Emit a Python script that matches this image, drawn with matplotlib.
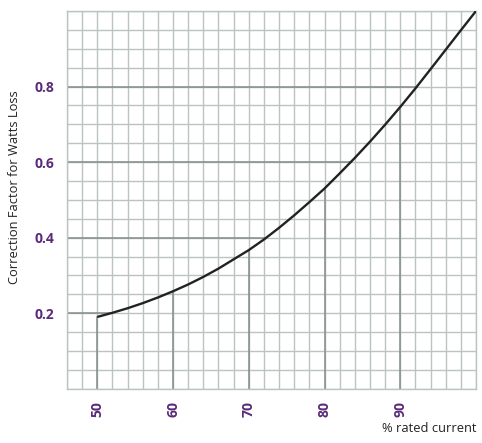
import matplotlib
matplotlib.use("Agg")
import matplotlib.pyplot as plt
import numpy as np

# curve, every 2 % of rated current
current_pct = [50, 52, 54, 56, 58, 60, 62, 64, 66, 68, 70, 72, 74, 76,
               78, 80, 82, 84, 86, 88, 90, 92, 94, 96, 98, 100]
correction = [0.190, 0.201, 0.213, 0.2265, 0.2415, 0.258, 0.276, 0.296,
              0.318, 0.3425, 0.367, 0.395, 0.426, 0.459, 0.494, 0.530,
              0.570, 0.611, 0.654, 0.699, 0.746, 0.795, 0.846, 0.8975,
              0.949, 1.0]

x_ticks = [50, 60, 70, 80, 90]
y_ticks = [0.2, 0.4, 0.6, 0.8]
x_lim = (46, 100)
y_lim = (0.0, 1.0)

LIGHT = "#bcc3c3"
DARK = "#858b8b"
PURPLE = "#5b2a7a"
FONT = ["Open Sans", "DejaVu Sans"]

fig = plt.figure(figsize=(4.82, 4.43), dpi=100)
ax = fig.add_axes([67 / 482, 1 - 388.7 / 443, (476 - 67) / 482, (388.7 - 11) / 443])
ax.set_xlim(*x_lim)
ax.set_ylim(*y_lim)

# graph-paper grid
for gx in np.arange(x_lim[0], x_lim[1] + 0.01, 2):
    ax.axvline(gx, color=LIGHT, linewidth=1.0, zorder=1)
for gy in np.arange(y_lim[0], y_lim[1] + 0.001, 0.05):
    ax.axhline(gy, color=LIGHT, linewidth=1.0, zorder=1)

# darker drop lines: from the axes up/across to the curve
for xt in x_ticks:
    yc = np.interp(xt, current_pct, correction)
    ax.plot([xt, xt], [y_lim[0], yc], color=DARK, linewidth=1.1, zorder=2)
for yt in y_ticks:
    xc = max(np.interp(yt, correction, current_pct), x_ticks[0])
    ax.plot([x_lim[0], xc], [yt, yt], color=DARK, linewidth=1.1, zorder=2)

ax.plot(current_pct, correction, color="#222222", linewidth=1.7,
        zorder=3, solid_capstyle="butt", solid_joinstyle="round")

for s in ax.spines.values():
    s.set_color(LIGHT)
    s.set_linewidth(1.0)

ax.set_xticks(x_ticks)
ax.set_yticks(y_ticks)
ax.set_xticklabels([str(v) for v in x_ticks], rotation=90, color=PURPLE,
                   fontweight="bold", fontsize=10, family=FONT)
ax.set_yticklabels([f"{v:.1f}" for v in y_ticks], color=PURPLE,
                   fontweight="bold", fontsize=10, family=FONT)
ax.tick_params(axis="both", length=0)
ax.tick_params(axis="x", pad=9)
ax.tick_params(axis="y", pad=9)

fig.text(15 / 482, 1 - 187 / 443, "Correction Factor for Watts Loss",
         rotation=90, ha="center", va="center", fontsize=9.3, family=FONT,
         color="#222222")
fig.text(476 / 482, 1 - 429 / 443, "% rated current", ha="right",
         va="center", fontsize=9.3, family=FONT, color="#222222")

fig.savefig("out.png", dpi=100)
